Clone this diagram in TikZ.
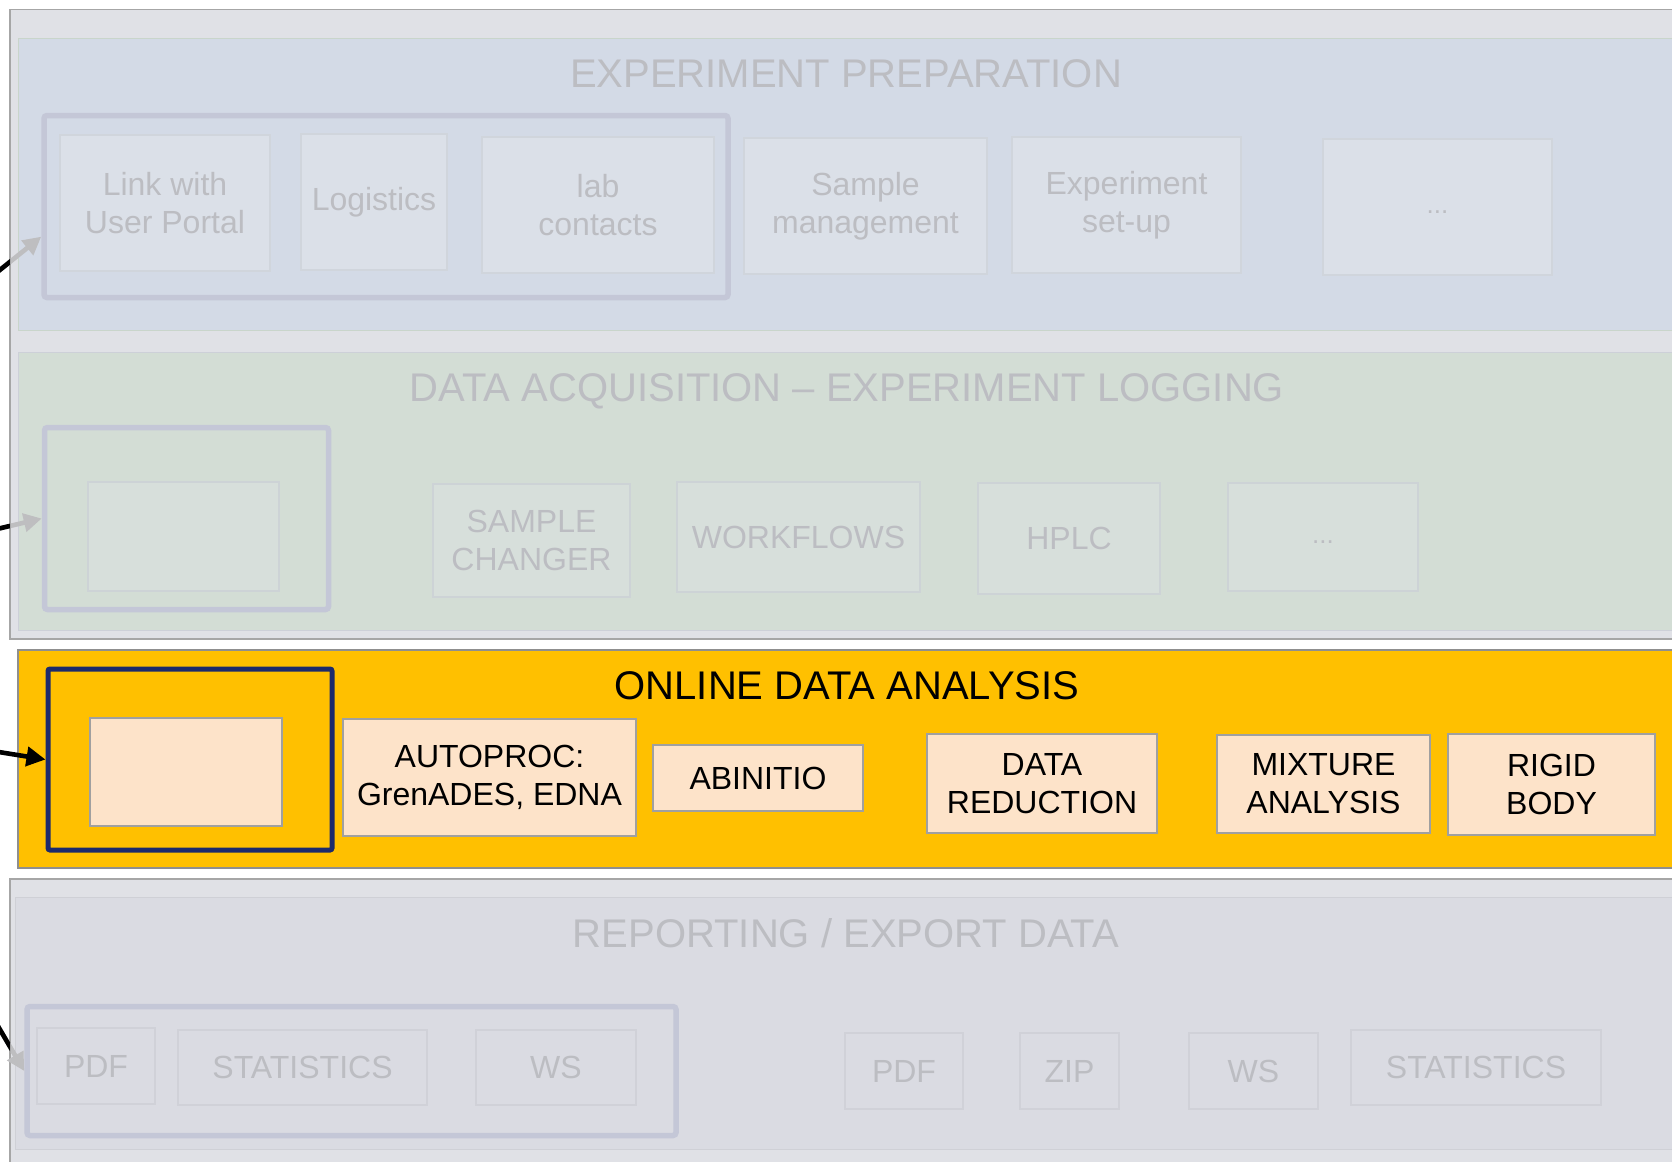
\documentclass[tikz,border=0pt]{standalone}
\usepackage{fontspec}
\setmainfont{Liberation Sans}
\usetikzlibrary{arrows.meta}
\definecolor{outergray}{HTML}{E0E1E6}
\definecolor{outerline}{HTML}{A6A6A6}
\definecolor{blueband}{HTML}{D3DAE6}
\definecolor{bluebandline}{HTML}{C9D5CB}
\definecolor{greenband}{HTML}{D3DDD5}
\definecolor{greenbandline}{HTML}{CDD0D8}
\definecolor{botband}{HTML}{DADBE2}
\definecolor{botbandline}{HTML}{CFD0D6}
\definecolor{yellowband}{HTML}{FFC000}
\definecolor{yellowline}{HTML}{8F8F8F}
\definecolor{topfill}{HTML}{DBE0E8}
\definecolor{topline}{HTML}{D0D5DC}
\definecolor{grnfill}{HTML}{D7DFDB}
\definecolor{grnline}{HTML}{CDD3D6}
\definecolor{botfill}{HTML}{DADBE2}
\definecolor{botline}{HTML}{D0D1D8}
\definecolor{grpline}{HTML}{C4C7D7}
\definecolor{fadetext}{HTML}{BCBDC2}
\definecolor{peach}{HTML}{FDE3C9}
\definecolor{peachline}{HTML}{A0A0A0}
\definecolor{navy}{HTML}{1C2A6C}
\definecolor{fadearrow}{HTML}{BEBEC0}
\begin{document}
\begin{tikzpicture}[x=0.5pt,y=-0.5pt,
  sz/.style 2 args={minimum width=#1*0.5pt, minimum height=#2*0.5pt},
  basebox/.style={rectangle, inner sep=0pt, align=center, font=\fontsize{16}{19}\selectfont},
  topbox/.style={basebox, fill=topfill, draw=topline, line width=0.6pt, text=fadetext},
  grnbox/.style={basebox, fill=grnfill, draw=grnline, line width=0.6pt, text=fadetext},
  botbox/.style={basebox, fill=botfill, draw=botline, line width=0.6pt, text=fadetext},
  ylbox/.style={basebox, fill=peach, draw=peachline, line width=0.6pt, text=black},
  dotsfont/.style={font=\fontsize{13}{16}\selectfont},
  grpbox/.style={rectangle, inner sep=0pt, draw=grpline, line width=2.75pt, rounded corners=1.5pt},
  navybox/.style={rectangle, inner sep=0pt, draw=navy, line width=2.5pt, rounded corners=1pt},
  bandtitle/.style={anchor=base, inner sep=0pt, font=\fontsize{20}{24}\selectfont, text=fadetext},
  garrow/.style={draw=fadearrow, line width=2.3pt, -{Triangle[length=9pt,width=9pt]}},
  bline/.style={draw=black, line width=2.3pt},
  barrow/.style={draw=black, line width=2.3pt, -{Triangle[length=9.5pt,width=9.5pt]}}
]
\useasboundingbox (0,0) rectangle (1672,1162);
\clip (0,0) rectangle (1672,1162);
\fill[white] (0,0) rectangle (1672,1162);

% background frames and bands
\path[fill=outergray, draw=outerline, line width=0.75pt] (10,9.5) rectangle (1720,639);
\path[fill=blueband, draw=bluebandline, line width=0.5pt] (18,38) rectangle (1720,330);
\path[fill=greenband, draw=greenbandline, line width=0.5pt] (18,352) rectangle (1720,630);
\path[fill=yellowband, draw=yellowline, line width=0.6pt] (18,650) rectangle (1720,868);
\path[fill=outergray, draw=outerline, line width=0.75pt] (10,879) rectangle (1720,1200);
\path[fill=botband, draw=botbandline, line width=0.5pt] (15,897) rectangle (1720,1149);

% titles
\node[bandtitle] (t1) at (846,87) {EXPERIMENT PREPARATION};
\node[bandtitle] (t2) at (847,401) {DATA ACQUISITION – EXPERIMENT LOGGING};
\node[bandtitle, text=black] (t3) at (847,699) {ONLINE DATA ANALYSIS};
\node[bandtitle] (t4) at (846,947) {REPORTING / EXPORT DATA};

% experiment preparation
\node[grpbox, sz={684}{182}] (g1) at (386,206.5) {};
\node[topbox, sz={210}{136}] (link) at (165,203) {Link with\\User Portal};
\node[topbox, sz={146}{136}] (logi) at (374,202) {\vphantom{Ag}Logistics};
\node[topbox, sz={232}{136}] (lab) at (598,205) {lab\\contacts};
\node[topbox, sz={243}{136}] (samp) at (865.5,206) {Sample\\management};
\node[topbox, sz={229}{136}] (expset) at (1126.5,205) {Experiment\\set-up};
\node[topbox, dotsfont, sz={229}{136}] (dotsa) at (1437.5,207) {\vphantom{Ag}...};

% data acquisition
\node[grpbox, sz={284}{182}] (g2) at (186.5,518.5) {};
\node[grnbox, sz={191}{109}] (emptya) at (183.5,536.5) {};
\node[grnbox, sz={197}{113}] (sc) at (531.5,540.5) {SAMPLE\\CHANGER};
\node[grnbox, sz={243}{110}] (wf) at (798.5,537) {WORKFLOWS};
\node[grnbox, sz={182}{111}] (hplc) at (1069,538.5) {HPLC};
\node[grnbox, dotsfont, sz={190}{108}] (dotsb) at (1323,537) {\vphantom{Ag}...};

% online data analysis
\node[navybox, sz={284}{181}] (b3) at (190,759.5) {};
\node[ylbox, sz={192}{108}] (emptyb) at (186,772) {};
\node[ylbox, sz={293}{117}] (auto) at (489.5,777.5) {AUTOPROC:\\GrenADES, EDNA};
\node[ylbox, sz={210}{66}] (abin) at (758,778) {ABINITIO};
\node[ylbox, sz={230}{99}] (dred) at (1042,783.5) {DATA\\REDUCTION};
\node[ylbox, sz={213}{98}] (mix) at (1323.5,784) {MIXTURE\\ANALYSIS};
\node[ylbox, sz={207}{101}] (rigid) at (1551.5,784.5) {RIGID\\BODY};

% reporting / export
\node[grpbox, sz={649}{129}] (g4) at (351.5,1071) {};
\node[botbox, sz={118}{76}] (pdfa) at (96,1066) {PDF};
\node[botbox, sz={249}{75}] (stata) at (302.5,1067.5) {STATISTICS};
\node[botbox, sz={160}{75}] (wsa) at (556,1067.5) {WS};
\node[botbox, sz={118}{76}] (pdfb) at (904,1071) {PDF};
\node[botbox, sz={99}{76}] (zip) at (1069.5,1071) {ZIP};
\node[botbox, sz={129}{76}] (wsb) at (1253.5,1071) {WS};
\node[botbox, sz={250}{75}] (statb) at (1476,1067.5) {STATISTICS};

% connectors coming from the left
\coordinate (s1) at (-20,286);
\coordinate (s2) at (-20,533);
\coordinate (s3) at (-20,749);
\coordinate (s4) at (-15,1004);

\draw[garrow] (s1) -- (g1.185);
\draw[garrow] (s2) -- (g2.west);
\draw[garrow] (s4) -- (g4.west);
\begin{scope}
  \clip (-40,0) rectangle (10,1162);
  \draw[bline] (s1) -- (g1.185);
  \draw[bline] (s2) -- (g2.west);
  \draw[bline] (s4) -- (g4.west);
\end{scope}
\draw[barrow] (s3) -- (b3.west);
\end{tikzpicture}
\end{document}
